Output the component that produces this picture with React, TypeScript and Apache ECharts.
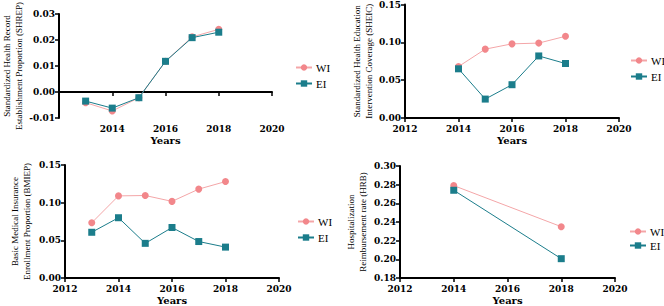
import React, { useEffect, useRef } from "react";
import * as echarts from "echarts";

const years1 = [2013, 2014, 2015, 2016, 2017, 2018];
const shrepWI = [-0.0041, -0.0073, -0.0022, 0.0118, 0.0212, 0.0241];
const shrepEI = [-0.0035, -0.0062, -0.0022, 0.0118, 0.0209, 0.023];

const years2 = [2014, 2015, 2016, 2017, 2018];
const sheicWI = [0.068, 0.091, 0.098, 0.099, 0.108];
const sheicEI = [0.065, 0.025, 0.044, 0.082, 0.072];

const years3 = [2013, 2014, 2015, 2016, 2017, 2018];
const bmiepWI = [0.0733, 0.109, 0.1095, 0.1017, 0.118, 0.128];
const bmiepEI = [0.0607, 0.08, 0.046, 0.067, 0.0484, 0.041];

const years4 = [2014, 2018];
const hrbWI = [0.279, 0.235];
const hrbEI = [0.274, 0.2007];

const yNames = [
  "Standardized Health Record\nEstablishment Proportion (SHREP)",
  "Standardized Health Education\nIntervention Coverage (SHEIC)",
  "Basic Medical Insurance\nEnrollment Proportion (BMIEP)",
  "Hospitalization\nReimbursement rate (HRB)",
];

const FONT = "'Liberation Serif', 'Times New Roman', serif";
const BOLD_FONT = "'DejaVu Serif', serif";
const WI_COLOR = "#F2878B";
const WI_LINE = "#F4A6A8";
const EI_COLOR = "#1B7D8B";

export default function App() {
  const ref = useRef<HTMLDivElement>(null);
  useEffect(() => {
    if (!ref.current) return;
    const chart = echarts.init(ref.current, null, { renderer: "svg" });

    const grids = [
      { left: 58, top: 4, width: 214, height: 114 },
      { left: 405, top: 4, width: 214, height: 114 },
      { left: 65, top: 165, width: 214, height: 115 },
      { left: 400, top: 166, width: 215, height: 114 },
    ];
    const yRanges = [
      { min: -0.01, max: 0.03, interval: 0.01 },
      { min: 0, max: 0.15, interval: 0.05 },
      { min: 0, max: 0.15, interval: 0.05 },
      { min: 0.18, max: 0.3, interval: 0.02 },
    ];
    const nameGaps = [34, 30, 32, 31];

    const axisLine = { show: true, lineStyle: { color: "#000", width: 2 } };
    const axisTick = { show: true, length: 4, lineStyle: { color: "#000", width: 1.5 } };

    const xAxis = grids.map((_, i) => ({
      type: "value",
      gridIndex: i,
      min: 2012,
      max: 2020,
      interval: 2,
      splitLine: { show: false },
      axisLine: { ...axisLine, onZero: true },
      axisTick,
      axisLabel: {
        color: "#000",
        fontFamily: BOLD_FONT,
        fontWeight: "bold",
        fontSize: 9,
        margin: 6,
        showMinLabel: i !== 0,
        formatter: (v: number) => String(Math.round(v)),
      },
      name: "Years",
      nameLocation: "middle",
      nameGap: 17,
      nameTextStyle: { color: "#000", fontFamily: BOLD_FONT, fontWeight: "bold", fontSize: 10 },
    }));

    const yAxis = grids.map((_, i) => ({
      type: "value",
      gridIndex: i,
      ...yRanges[i],
      splitLine: { show: false },
      axisLine,
      axisTick,
      axisLabel: {
        color: "#000",
        fontFamily: BOLD_FONT,
        fontWeight: "bold",
        fontSize: 9,
        margin: 4,
        formatter: (v: number) => v.toFixed(2),
      },
      name: yNames[i],
      nameLocation: "middle",
      nameRotate: 90,
      nameGap: nameGaps[i],
      nameTextStyle: { color: "#000", fontFamily: FONT, fontSize: 9, lineHeight: 12 },
    }));

    const mk = (name: string, xs: number[], ys: number[], idx: number) => {
      const wi = name === "WI";
      return {
        name,
        type: "line",
        xAxisIndex: idx,
        yAxisIndex: idx,
        data: xs.map((x, k) => [x, ys[k]]),
        symbol: wi ? "circle" : "rect",
        symbolSize: 7,
        itemStyle: { color: wi ? WI_COLOR : EI_COLOR },
        lineStyle: { color: wi ? WI_LINE : EI_COLOR, width: 1 },
        z: wi ? 2 : 3,
      };
    };

    const series = [
      mk("WI", years1, shrepWI, 0),
      mk("EI", years1, shrepEI, 0),
      mk("WI", years2, sheicWI, 1),
      mk("EI", years2, sheicEI, 1),
      mk("WI", years3, bmiepWI, 2),
      mk("EI", years3, bmiepEI, 2),
      mk("WI", years4, hrbWI, 3),
      mk("EI", years4, hrbEI, 3),
    ];

    const legendPos = [
      { left: 290, top: 57, itemGap: 5 },
      { left: 625, top: 50, itemGap: 5 },
      { left: 292, top: 211, itemGap: 5 },
      { left: 624, top: 221, itemGap: 3 },
    ];
    const legend = legendPos.map((p) => ({
      ...p,
      orient: "vertical",
      data: ["WI", "EI"],
      itemWidth: 16,
      itemHeight: 8,
      itemGap: p.itemGap,
      selectedMode: false,
      textStyle: { color: "#000", fontFamily: FONT, fontSize: 11, padding: [0, 0, 0, -1] },
    }));

    chart.setOption({
      animation: false,
      textStyle: { fontFamily: FONT },
      grid: grids,
      xAxis,
      yAxis,
      legend,
      series,
    });
    return () => chart.dispose();
  }, []);
  return <div ref={ref} style={{ width: 664, height: 306, position: "absolute", left: 0, top: 0 }} />;
}
